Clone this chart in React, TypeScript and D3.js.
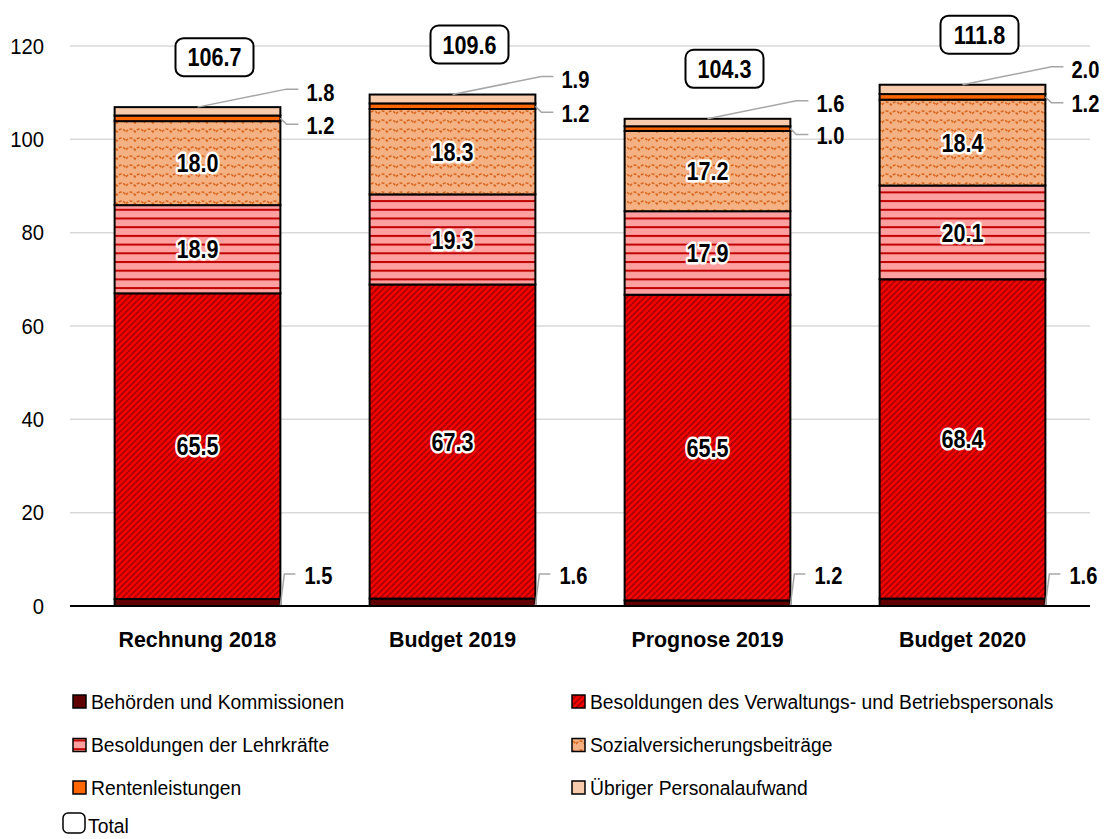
import React from "react";
import * as d3 from "d3";

const categories = ["Rechnung 2018", "Budget 2019", "Prognose 2019", "Budget 2020"];
const behoerden = [1.5, 1.6, 1.2, 1.6];
const verwaltung = [65.5, 67.3, 65.5, 68.4];
const lehrkraefte = [18.9, 19.3, 17.9, 20.1];
const sozial = [18.0, 18.3, 17.2, 18.4];
const renten = [1.2, 1.2, 1.0, 1.2];
const uebriger = [1.8, 1.9, 1.6, 2.0];
const totals = [106.7, 109.6, 104.3, 111.8];
const yTicks = [0, 20, 40, 60, 80, 100, 120];
const seriesNames = [
  "Behörden und Kommissionen",
  "Besoldungen des Verwaltungs- und Betriebspersonals",
  "Besoldungen der Lehrkräfte",
  "Sozialversicherungsbeiträge",
  "Rentenleistungen",
  "Übriger Personalaufwand",
];
const totalName = "Total";

const FONT = "'Liberation Sans', Arial, Helvetica, sans-serif";
const fills = ["#600000", "url(#pVerw)", "url(#pLehr)", "url(#pSoz)", "#ff6600", "#f8cbad"];

function Label({ x, y, size, bold = false, sx = 1, anchor = "start", halo = false, children }: any) {
  return (
    <text
      transform={`translate(${x},${y}) scale(${sx},1)`}
      fontFamily={FONT}
      fontSize={size}
      fontWeight={bold ? 700 : 400}
      textAnchor={anchor}
      dy="0.35em"
      fill="#000"
      stroke={halo ? "#fff" : "none"}
      strokeWidth={halo ? 5 : 0}
      strokeLinejoin="round"
      style={{ paintOrder: "stroke" } as any}
    >
      {children}
    </text>
  );
}

export default function App() {
  const W = 1104, H = 839;
  const x = d3.scaleBand<string>().domain(categories).range([70, 1090]).paddingInner(0.35).paddingOuter(0.175);
  const y = d3.scaleLinear().domain([0, 120]).range([606, 46]);
  const keys = ["b", "v", "l", "s", "r", "u"];
  const table = categories.map((c, i) => ({
    cat: c,
    b: behoerden[i], v: verwaltung[i], l: lehrkraefte[i], s: sozial[i], r: renten[i], u: uebriger[i],
  }));
  const stacked = d3.stack<any>().keys(keys)(table);
  const bw = x.bandwidth();
  const fmt = d3.format(".1f");

  const legendItems = seriesNames.map((n, i) => ({
    name: n, fill: fills[i], col: i % 2, row: Math.floor(i / 2),
  }));
  const rowY = [701.5, 745, 787.5, 826];
  const colX = [73, 572];

  return (
    <svg width={W} height={H} style={{ position: "absolute", left: 0, top: 0, background: "#fff" }}>
      <defs>
        <pattern id="pVerw" patternUnits="userSpaceOnUse" width={6} height={6}>
          <rect width={6} height={6} fill="#ff0000" />
          <path d="M-1.5,1.5 L1.5,-1.5 M0,6 L6,0 M4.5,7.5 L7.5,4.5" stroke="#b00000" strokeWidth={2.2} />
        </pattern>
        <pattern id="pLehr" patternUnits="userSpaceOnUse" width={10} height={8.7}>
          <rect width={10} height={8.7} fill="#ffa0a0" />
          <rect y={0} width={10} height={2} fill="#c00000" />
        </pattern>
        <pattern id="pSoz" patternUnits="userSpaceOnUse" width={18} height={9}>
          <rect width={18} height={9} fill="#f4b183" />
          <path d="M0,6 C3,2 6,2 9,6 C12,2 15,2 18,6" fill="none" stroke="#d9661c" strokeWidth={1.6} strokeDasharray="3 1.6" />
        </pattern>
      </defs>

      {/* grid */}
      {yTicks.map((t) => (
        <g key={t}>
          {t !== 0 && <line x1={70} x2={1090} y1={y(t)} y2={y(t)} stroke="#d9d9d9" strokeWidth={1.5} />}
          <Label x={44} y={y(t)} size={22} sx={0.92} anchor="end">{t}</Label>
        </g>
      ))}

      {/* bars */}
      {stacked.map((s, si) => (
        <g key={s.key}>
          {s.map((d, i) => (
            <rect
              key={i}
              x={x(categories[i])!}
              y={y(d[1])}
              width={bw}
              height={y(d[0]) - y(d[1])}
              fill={fills[si]}
              stroke="#000"
              strokeWidth={2}
            />
          ))}
        </g>
      ))}

      <line x1={70} x2={1090} y1={y(0)} y2={y(0)} stroke="#000" strokeWidth={2} />

      {/* inside labels */}
      {stacked.slice(1, 4).map((s) =>
        s.map((d, i) => (
          <Label key={s.key + i} x={x(categories[i])! + bw / 2} y={y((d[0] + d[1]) / 2)} size={26} bold sx={0.83} anchor="middle" halo>
            {fmt(d[1] - d[0])}
          </Label>
        ))
      )}

      {/* outside labels with leaders */}
      {categories.map((c, i) => {
        const x0 = x(c)!;
        const xr = x0 + bw;
        const cx = x0 + bw / 2;
        const top = stacked[5][i][1];
        const yTop = y(top);
        const topLabelY = yTop - 15;
        const rMid = y((stacked[4][i][0] + stacked[4][i][1]) / 2);
        const rLabelY = rMid + 7;
        const bLabelY = y(0) - 30;
        const lc = "#a6a6a6";
        return (
          <g key={c}>
            <polyline points={`${cx},${yTop} ${xr + 6},${topLabelY - 3} ${xr + 18},${topLabelY - 3}`} fill="none" stroke={lc} strokeWidth={1.5} />
            <Label x={xr + 26} y={topLabelY} size={24} bold sx={0.84}>{fmt(uebriger[i])}</Label>
            <polyline points={`${xr},${rMid} ${xr + 6},${rLabelY - 1} ${xr + 18},${rLabelY - 1}`} fill="none" stroke={lc} strokeWidth={1.5} />
            <Label x={xr + 26} y={rLabelY} size={24} bold sx={0.84}>{fmt(renten[i])}</Label>
            <polyline points={`${xr},${y(0) - 1} ${xr + 4},${bLabelY - 2} ${xr + 15},${bLabelY - 2}`} fill="none" stroke={lc} strokeWidth={1.5} />
            <Label x={xr + 24} y={bLabelY} size={24} bold sx={0.84}>{fmt(behoerden[i])}</Label>
            {/* total box */}
            <rect x={cx + 17 - 39} y={yTop - 50 - 19} width={78} height={38} rx={8} fill="#fff" stroke="#000" strokeWidth={2} />
            <Label x={cx + 17} y={yTop - 50} size={26} bold sx={0.83} anchor="middle">{fmt(totals[i])}</Label>
            <Label x={cx} y={639} size={23} bold sx={0.93} anchor="middle">{c}</Label>
          </g>
        );
      })}

      {/* legend */}
      {legendItems.map((it) => (
        <g key={it.name}>
          <rect x={colX[it.col]} y={rowY[it.row] - 6.5} width={13} height={13} fill={it.fill} stroke="#000" strokeWidth={1.5} />
          <Label x={colX[it.col] + 18} y={rowY[it.row]} size={21} sx={0.92}>{it.name}</Label>
        </g>
      ))}
      <rect x={63} y={rowY[3] - 13} width={22} height={20} rx={5} fill="#fff" stroke="#000" strokeWidth={1.5} />
      <Label x={88} y={rowY[3]} size={21} sx={0.92}>{totalName}</Label>
    </svg>
  );
}
